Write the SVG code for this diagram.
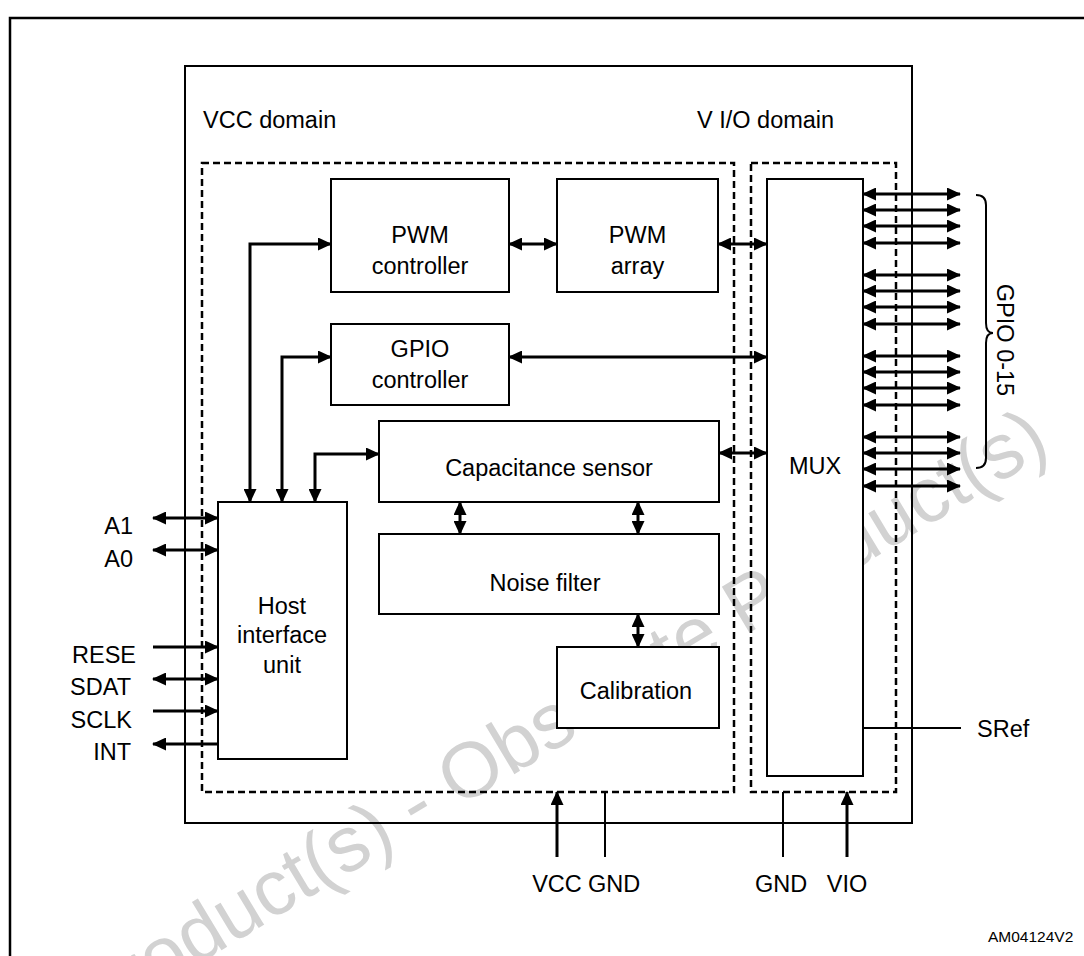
<svg xmlns="http://www.w3.org/2000/svg" width="1084" height="956" viewBox="0 0 1084 956">
<defs>
<marker id="ah" markerUnits="userSpaceOnUse" markerWidth="14" markerHeight="13" refX="13" refY="6.5" orient="auto-start-reverse">
<path d="M0,0 L14,6.5 L0,13 Z" fill="#000"/>
</marker>
<style>
text{font-family:"Liberation Sans",Arial,sans-serif;font-size:23.5px;fill:#000}
.box{fill:#fff;stroke:#000;stroke-width:2}
.dash{fill:none;stroke:#000;stroke-width:2.5;stroke-dasharray:7 4}
.thick{fill:none;stroke:#000;stroke-width:3}
.thin{fill:none;stroke:#000;stroke-width:2}
.both{marker-start:url(#ah);marker-end:url(#ah)}
.end{marker-end:url(#ah)}
.c{text-anchor:middle}
.r{text-anchor:end}
.wm{font-size:78px;fill:#d2d2d2}
</style>
</defs>
<rect width="1084" height="956" fill="#fff"/>
<text class="wm" transform="translate(458,808) rotate(-31)" x="-763">Obsolete Product(s) - Obsolete Product(s)</text>
<path d="M10,956 V18 H1084" fill="none" stroke="#000" stroke-width="2.5"/>
<g id="chip">
<rect x="185" y="66" width="727" height="757" fill="none" stroke="#000" stroke-width="2"/>
<text x="203" y="128">VCC domain</text>
<text x="697" y="128">V I/O domain</text>
</g>
<g id="vcc-domain"><rect class="dash" x="202" y="163" width="532" height="629"/></g>
<g id="vio-domain"><rect class="dash" x="751" y="163" width="145" height="629"/></g>
<g id="pwm-controller">
<rect class="box" x="331" y="179" width="178" height="113"/>
<text class="c" x="420" y="243">PWM</text>
<text class="c" x="420" y="274">controller</text>
</g>
<g id="pwm-array">
<rect class="box" x="557" y="179" width="161" height="113"/>
<text class="c" x="637.5" y="243">PWM</text>
<text class="c" x="637.5" y="274">array</text>
</g>
<g id="gpio-controller">
<rect class="box" x="331" y="324" width="178" height="81"/>
<text class="c" x="420" y="357">GPIO</text>
<text class="c" x="420" y="388">controller</text>
</g>
<g id="capacitance-sensor">
<rect class="box" x="379" y="421" width="340" height="81"/>
<text class="c" x="549" y="476">Capacitance sensor</text>
</g>
<g id="noise-filter">
<rect class="box" x="379" y="534" width="340" height="80"/>
<text class="c" x="545" y="591">Noise filter</text>
</g>
<g id="calibration">
<rect class="box" x="557" y="647" width="162" height="81"/>
<text class="c" x="636" y="699">Calibration</text>
</g>
<g id="host-interface-unit">
<rect class="box" x="218" y="502" width="129" height="257"/>
<text class="c" x="282" y="614">Host</text>
<text class="c" x="282" y="643">interface</text>
<text class="c" x="282" y="673">unit</text>
</g>
<g id="mux">
<rect class="box" x="767" y="179" width="96" height="597"/>
<text class="c" x="815" y="474">MUX</text>
</g>
<g id="connectors">
<path class="thick both" d="M509,244 H557"/>
<path class="thick both" d="M718,244 H767"/>
<path class="thick both" d="M509,357 H767"/>
<path class="thick both" d="M719,453 H767"/>
<path class="thick both" d="M331,244 H250 V502"/>
<path class="thick both" d="M331,357 H282 V502"/>
<path class="thick both" d="M379,454 H315 V502"/>
<path class="thick both" d="M460,502 V534"/>
<path class="thick both" d="M638,502 V534"/>
<path class="thick both" d="M638,614 V647"/>
<path class="thick both" d="M153,518 H218"/>
<path class="thick both" d="M153,550 H218"/>
<path class="thick end" d="M153,647 H218"/>
<path class="thick both" d="M153,679 H218"/>
<path class="thick end" d="M153,711 H218"/>
<path class="thick end" d="M218,744 H153"/>
<path class="thick end" d="M557,857 V792"/>
<path class="thin" d="M605,792 V857"/>
<path class="thin" d="M783,792 V857"/>
<path class="thick end" d="M847,857 V792"/>
<path class="thin" d="M863,728 H961"/>
<path class="thick both" d="M863,194 H960"/>
<path class="thick both" d="M863,210 H960"/>
<path class="thick both" d="M863,226 H960"/>
<path class="thick both" d="M863,243 H960"/>
<path class="thick both" d="M863,275 H960"/>
<path class="thick both" d="M863,291 H960"/>
<path class="thick both" d="M863,307 H960"/>
<path class="thick both" d="M863,324 H960"/>
<path class="thick both" d="M863,356 H960"/>
<path class="thick both" d="M863,372 H960"/>
<path class="thick both" d="M863,388 H960"/>
<path class="thick both" d="M863,405 H960"/>
<path class="thick both" d="M863,437 H960"/>
<path class="thick both" d="M863,453 H960"/>
<path class="thick both" d="M863,469 H960"/>
<path class="thick both" d="M863,486 H960"/>
<path class="thin" d="M976,195 Q986,195 986,205 V323 Q986,333 993,333 Q986,333 986,343 V458 Q986,468 976,468"/>
</g>
<g id="labels">
<text class="r" x="133" y="534">A1</text>
<text class="r" x="133" y="567">A0</text>
<text class="r" x="136" y="663">RESE</text>
<text class="r" x="131" y="695">SDAT</text>
<text class="r" x="132" y="728">SCLK</text>
<text class="r" x="131" y="760">INT</text>
<text class="c" x="557" y="892">VCC</text>
<text class="c" x="614" y="892">GND</text>
<text class="c" x="781" y="892">GND</text>
<text class="c" x="847" y="892">VIO</text>
<text x="977" y="737">SRef</text>
<text transform="translate(997,340) rotate(90)" class="c">GPIO 0-15</text>
<text x="988" y="942" style="font-size:15.5px">AM04124V2</text>
</g>
</svg>
